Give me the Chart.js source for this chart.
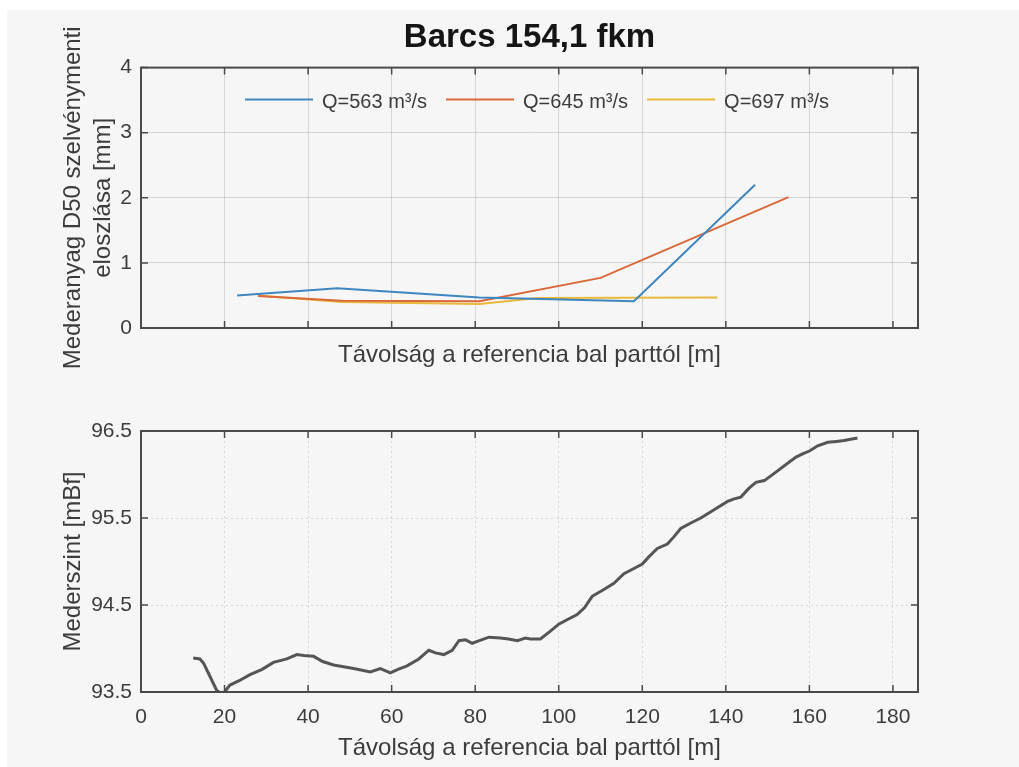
<!DOCTYPE html>
<html lang="hu">
<head>
<meta charset="UTF-8">
<title>Barcs 154,1 fkm</title>
<script src="https://cdn.jsdelivr.net/npm/chart.js"></script>
<style>
    body {
        margin: 0;
        background: #ffffff;
        width: 1019px;
        height: 767px;
        position: relative;
        overflow: hidden;
    }

    /* light grey figure background, like the MATLAB window */
    .fig-bg {
        position: absolute;
        left: 7px;
        top: 10px;
        right: 0;
        bottom: 0;
        background: #f6f6f6;
    }

    canvas {
        position: absolute;
        left: 0;
    }

    #top-chart { top: 0; }
    #bottom-chart { top: 390px; }
</style>
</head>
<body>
<div class="fig-bg"></div>
<canvas id="top-chart" width="1019" height="390"></canvas>
<canvas id="bottom-chart" width="1019" height="377"></canvas>

<script>
    // ---- data ----
    const xTicks = [0, 20, 40, 60, 80, 100, 120, 140, 160, 180];
    const d50Ticks = [0, 1, 2, 3, 4];
    const bedTicks = [93.5, 94.5, 95.5, 96.5];

    // D50 distribution (top plot)
    const labels = ['Q=563 m³/s', 'Q=645 m³/s', 'Q=697 m³/s'];
    const x563 = [23, 47, 81, 118, 147];
    const y563 = [0.50, 0.61, 0.47, 0.41, 2.20];
    const x645 = [28, 48, 81, 110, 155];
    const y645 = [0.49, 0.42, 0.41, 0.77, 2.01];
    const x697 = [28, 48, 81, 95, 138];
    const y697 = [0.50, 0.40, 0.37, 0.46, 0.47];

    // bed level profile (bottom plot)
    const bedX = [12.5, 14.1, 15, 18.1, 19.5, 21.3, 23.5, 26.1, 29, 31.7, 34.9, 37.3, 39, 41.3, 43.5,
        46.1, 48.5, 50.9, 54.9, 57.3, 59.7, 61.5, 63.7, 66.5, 68.9, 70.5, 72.5, 74.5, 76.1, 77.7,
        79.3, 81, 83.3, 86, 88, 90.1, 92, 93.2, 95.6, 98, 100, 102, 104.4, 106.2, 108, 110.5,
        113.2, 115.6, 118, 120, 121.5, 123.6, 126, 127.5, 129.2, 131.5, 134, 137, 140.4, 142,
        143.6, 145.5, 147.2, 149.2, 151.5, 154, 156.8, 158.5, 160, 162, 164.4, 166.5, 168.3, 171.5];
    const bedY = [93.89, 93.88, 93.83, 93.52, 93.47, 93.58, 93.63, 93.70, 93.76, 93.84, 93.88, 93.93, 93.92, 93.91, 93.85,
        93.81, 93.79, 93.77, 93.73, 93.77, 93.72, 93.76, 93.80, 93.88, 93.98, 93.95, 93.93, 93.98, 94.09, 94.10,
        94.06, 94.09, 94.13, 94.12, 94.11, 94.09, 94.12, 94.11, 94.11, 94.20, 94.28, 94.33, 94.39, 94.47, 94.60, 94.67,
        94.75, 94.86, 94.92, 94.97, 95.05, 95.15, 95.20, 95.28, 95.38, 95.44, 95.50, 95.59, 95.69, 95.72,
        95.74, 95.84, 95.91, 95.93, 96.01, 96.10, 96.20, 96.24, 96.27, 96.33, 96.37, 96.38, 96.39, 96.42];

    const xLabel = 'Távolság a referencia bal parttól [m]';
    const FONT = '"Liberation Sans", Arial, sans-serif';
    const TEXT = '#3c3c3c';

    Chart.defaults.font.family = FONT;
    Chart.defaults.color = TEXT;

    function pairs(xs, ys) {
        return xs.map((x, i) => ({ x: x, y: ys[i] }));
    }

    // MATLAB style box with ticks pointing inwards
    const matlabBox = {
        id: 'matlabBox',
        afterDraw(chart) {
            const { ctx, chartArea: a, scales } = chart;
            ctx.save();
            ctx.strokeStyle = '#4a4a4a';
            ctx.lineWidth = 1.5;
            ctx.beginPath();
            scales.x.ticks.forEach(t => {
                const px = scales.x.getPixelForValue(t.value);
                ctx.moveTo(px, a.bottom);
                ctx.lineTo(px, a.bottom - 7);
                ctx.moveTo(px, a.top);
                ctx.lineTo(px, a.top + 7);
            });
            scales.y.ticks.forEach(t => {
                const py = scales.y.getPixelForValue(t.value);
                ctx.moveTo(a.left, py);
                ctx.lineTo(a.left + 7, py);
                ctx.moveTo(a.right, py);
                ctx.lineTo(a.right - 7, py);
            });
            ctx.stroke();
            ctx.lineWidth = 2;
            ctx.strokeRect(a.left, a.top, a.width, a.height);
            ctx.restore();
        }
    };

    // horizontal legend inside the top axes, no frame
    const insideLegend = {
        id: 'insideLegend',
        afterDatasetsDraw(chart, args, opts) {
            const ctx = chart.ctx;
            ctx.save();
            ctx.font = '20px ' + FONT;
            ctx.textBaseline = 'middle';
            let x = chart.chartArea.left + opts.offsetX;
            const y = chart.chartArea.top + opts.offsetY;
            chart.data.datasets.forEach(ds => {
                ctx.strokeStyle = ds.borderColor;
                ctx.lineWidth = ds.borderWidth;
                ctx.beginPath();
                ctx.moveTo(x, y - 3);
                ctx.lineTo(x + opts.lineLen, y - 3);
                ctx.stroke();
                x += opts.lineLen + opts.textGap;
                ctx.fillStyle = TEXT;
                ctx.fillText(ds.label, x, y);
                x += ctx.measureText(ds.label).width + opts.itemGap;
            });
            ctx.restore();
        }
    };

    function xScale(showLabels, titlePadBottom, height, dashed) {
        return {
            type: 'linear',
            min: 0,
            max: 186,
            afterBuildTicks: s => { s.ticks = xTicks.map(v => ({ value: v })); },
            afterFit: s => { s.height = height; },
            grid: { color: 'rgba(0,0,0,0.13)', drawTicks: false },
            border: { display: false, dash: dashed ? [2, 3] : [] },
            ticks: { display: showLabels, padding: 13, font: { size: 21 }, color: TEXT },
            title: {
                display: true,
                text: xLabel,
                font: { size: 24, lineHeight: 1.25 },
                color: TEXT,
                padding: { top: 0, bottom: titlePadBottom }
            }
        };
    }

    // ---- top: D50 distribution ----
    new Chart(document.getElementById('top-chart'), {
        type: 'line',
        data: {
            datasets: [
                { label: labels[0], data: pairs(x563, y563), borderColor: '#3f86bf', borderWidth: 2 },
                { label: labels[1], data: pairs(x645, y645), borderColor: '#d9683a', borderWidth: 2 },
                { label: labels[2], data: pairs(x697, y697), borderColor: '#eab83a', borderWidth: 2 }
            ]
        },
        options: {
            responsive: false,
            animation: false,
            elements: { point: { radius: 0 }, line: { tension: 0 } },
            layout: { padding: { left: 0, right: 101, top: 0, bottom: 0 } },
            scales: {
                x: xScale(false, 20, 62, false),
                y: {
                    min: 0,
                    max: 4,
                    afterBuildTicks: s => { s.ticks = d50Ticks.map(v => ({ value: v })); },
                    afterFit: s => { s.width = 141; },
                    grid: { color: 'rgba(0,0,0,0.13)', drawTicks: false },
                    border: { display: false },
                    ticks: { padding: 9, font: { size: 21 }, color: TEXT },
                    title: {
                        display: true,
                        text: ['Mederanyag D50 szelvénymenti', 'eloszlása [mm]'],
                        font: { size: 24, lineHeight: 1.25 },
                        color: TEXT,
                        padding: { top: 58, bottom: 0 }
                    }
                }
            },
            plugins: {
                legend: { display: false },
                tooltip: { enabled: false },
                title: {
                    display: true,
                    text: 'Barcs 154,1 fkm',
                    fullSize: false,
                    color: '#151515',
                    font: { size: 33, weight: 'bold', lineHeight: 1.2 },
                    padding: { top: 18, bottom: 10 }
                },
                insideLegend: { offsetX: 104, offsetY: 35, lineLen: 68, textGap: 9, itemGap: 19 }
            }
        },
        plugins: [matlabBox, insideLegend]
    });

    // ---- bottom: bed level ----
    new Chart(document.getElementById('bottom-chart'), {
        type: 'line',
        data: {
            datasets: [
                { label: 'Mederszint', data: pairs(bedX, bedY), borderColor: '#555555', borderWidth: 3 }
            ]
        },
        options: {
            responsive: false,
            animation: false,
            elements: { point: { radius: 0 }, line: { tension: 0 } },
            layout: { padding: { left: 0, right: 101, top: 41, bottom: 0 } },
            scales: {
                x: xScale(true, 4, 75, true),
                y: {
                    min: 93.5,
                    max: 96.5,
                    afterBuildTicks: s => { s.ticks = bedTicks.map(v => ({ value: v })); },
                    afterFit: s => { s.width = 141; },
                    grid: { color: 'rgba(0,0,0,0.13)', drawTicks: false },
                    border: { display: false, dash: [2, 3] },
                    ticks: { padding: 9, font: { size: 21 }, color: TEXT },
                    title: {
                        display: true,
                        text: 'Mederszint [mBf]',
                        font: { size: 24, lineHeight: 1.25 },
                        color: TEXT,
                        padding: { top: 58, bottom: 0 }
                    }
                }
            },
            plugins: {
                legend: { display: false },
                tooltip: { enabled: false }
            }
        },
        plugins: [matlabBox]
    });
</script>
</body>
</html>
